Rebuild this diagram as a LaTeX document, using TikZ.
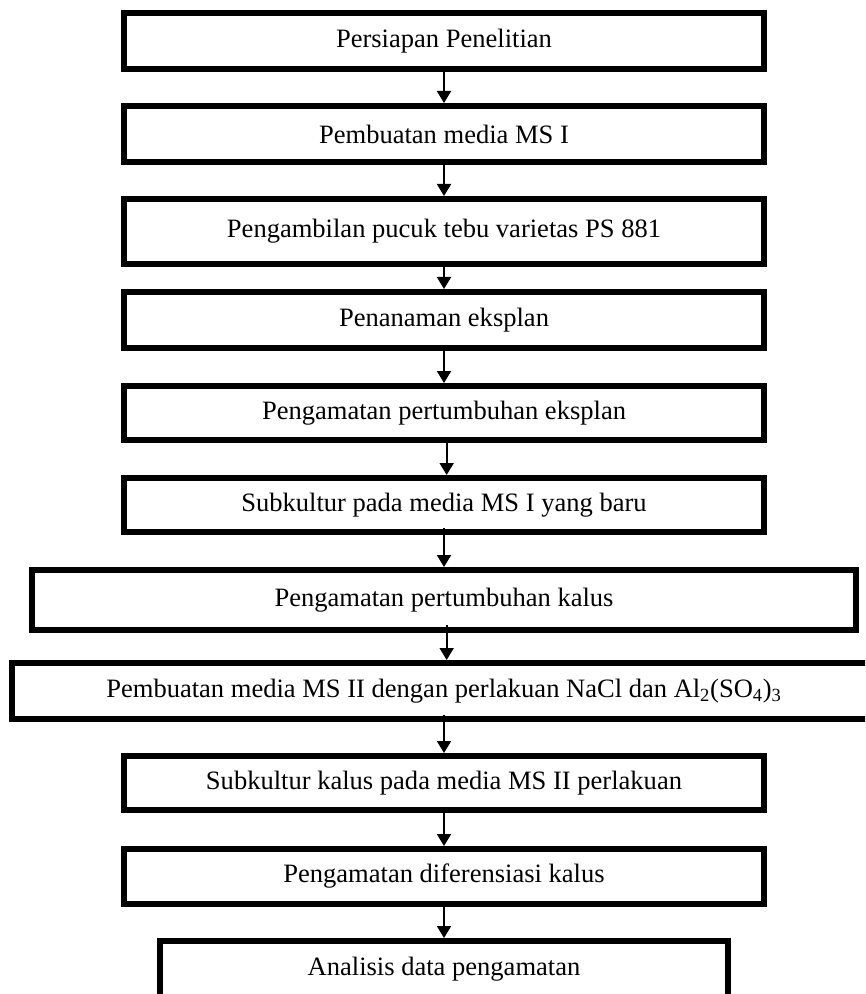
\documentclass[tikz,border=0pt]{standalone}
\usepackage{fontspec}
\setmainfont{Liberation Serif}
\usetikzlibrary{arrows.meta}
\begin{document}
\begin{tikzpicture}[x=0.75pt,y=-0.75pt,
  stepbox/.style={draw=black,line width=4.5pt,fill=white,inner sep=0pt,
    minimum width=480pt,minimum height=42pt,font=\fontsize{19.9}{24}\selectfont},
  flow/.style={draw=black,line width=1.5pt,-{Triangle[width=10.5pt,length=9pt]}}]
\clip (0,0) rectangle (865,994);
\node[stepbox] (b1) at (444,41) {Persiapan Penelitian};
\node[stepbox] (b2) at (444,134) {Pembuatan media MS I};
\node[stepbox,minimum height=48.75pt] (b3) at (444,231.5) {Pengambilan pucuk tebu varietas PS 881};
\node[stepbox] (b4) at (444,320) {Penanaman eksplan};
\node[stepbox,minimum height=40.5pt] (b5) at (444,413) {Pengamatan pertumbuhan eksplan};
\node[stepbox,minimum height=40.5pt] (b6) at (444,505) {Subkultur pada media MS I yang baru};
\node[stepbox,minimum width=618pt,minimum height=45pt] (b7) at (444,600) {Pengamatan pertumbuhan kalus};
\node[stepbox,minimum width=648pt] (b8) at (444,691) {Pembuatan media MS II dengan perlakuan NaCl dan Al\textsubscript{2}(SO\textsubscript{4})\textsubscript{3}};
\node[stepbox,minimum height=40.5pt] (b9) at (444,783) {Subkultur kalus pada media MS II perlakuan};
\node[stepbox,minimum height=41.25pt] (b10) at (444,876.5) {Pengamatan diferensiasi kalus};
\node[stepbox,minimum width=426pt] (b11) at (444,969) {Analisis data pengamatan};
\draw[flow] (b1.south) -- (b2.north);
\draw[flow] (b2.south) -- (b3.north);
\draw[flow] (b3.south) -- (b4.north);
\draw[flow] (b4.south) -- (b5.north);
\draw[flow] ([xshift=2pt]b5.south) -- ([xshift=2pt]b6.north);
\draw[flow] ([yshift=5pt]b6.south) -- (b7.north);
\draw[flow] ([xshift=2pt,yshift=6pt]b7.south) -- ([xshift=2pt]b8.north);
\draw[flow] ([yshift=5pt]b8.south) -- (b9.north);
\draw[flow] ([yshift=4pt]b9.south) -- (b10.north);
\draw[flow] ([yshift=4pt]b10.south) -- (b11.north);
\end{tikzpicture}
\end{document}
